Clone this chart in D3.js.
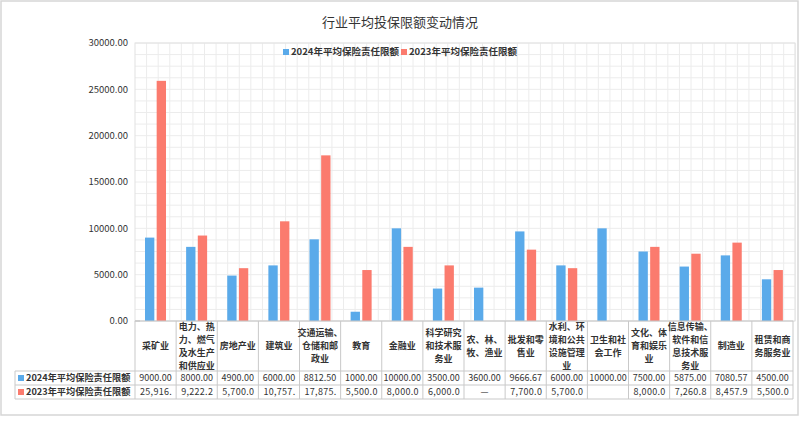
<!DOCTYPE html>
<meta charset="utf-8">
<style>
body { margin: 0; background: #fff; }
text { font-family: "Noto Sans CJK SC", "Noto Sans", sans-serif; fill: #333; }
.grid line { stroke: #ececec; stroke-width: 1px; }
.tbl line { stroke: #c9c9c9; stroke-width: 1px; }
</style>
<body>
<script src="https://d3js.org/d3.v7.min.js"></script>
<script>
// data
var categories = ["采矿业", "电力、热力、燃气及水生产和供应业", "房地产业", "建筑业",
    "交通运输、仓储和邮政业", "教育", "金融业", "科学研究和技术服务业", "农、林、牧、渔业",
    "批发和零售业", "水利、环境和公共设施管理业", "卫生和社会工作", "文化、体育和娱乐业",
    "信息传输、软件和信息技术服务业", "制造业", "租赁和商务服务业"];
var values2024 = [9000, 8000, 4900, 6000, 8812.5, 1000, 10000, 3500, 3600, 9666.67, 6000, 10000, 7500, 5875, 7080.57, 4500];
var values2023 = [25916.67, 9222.22, 5700, 10757.14, 17875, 5500, 8000, 6000, null, 7700, 5700, null, 8000, 7260.87, 8457.95, 5500];
var seriesNames = ["2024年平均保险责任限额", "2023年平均保险责任限额"];
var yTicks = [0, 5000, 10000, 15000, 20000, 25000, 30000];
var title = "行业平均投保限额变动情况";

var W = 800, H = 429;
var colors = ["#5aaaea", "#fb7b6e"];

var svg = d3.select("body").append("svg")
    .attr("width", W).attr("height", H);

// outer frame
svg.append("rect")
    .attr("x", 1).attr("y", 1).attr("width", W - 3).attr("height", 414)
    .attr("fill", "#fff").attr("stroke", "#d6d6d6").attr("stroke-width", 1.5);

svg.append("text")
    .attr("x", 400).attr("y", 27)
    .attr("text-anchor", "middle")
    .style("font-size", "13px")
    .text(title);

// scales
var plotLeft = 135, plotRight = 793;
var x0 = d3.scaleBand().domain(categories).range([plotLeft, plotRight]);
var x1 = d3.scaleBand().domain([0, 1]).range([10, 31]).paddingInner(0.2);
var y = d3.scaleLinear().domain([0, 30000]).range([321, 43]);

// background grid
var grid = svg.append("g").attr("class", "grid");
grid.selectAll(".h").data(d3.range(0, 30001, 1250)).join("line")
    .attr("x1", plotLeft).attr("x2", 795)
    .attr("y1", function(d) { return y(d); }).attr("y2", function(d) { return y(d); });
var step = y(0) - y(1250);
grid.selectAll(".v").data(d3.range(plotLeft + step, 796, step)).join("line")
    .attr("x1", function(d) { return d; }).attr("x2", function(d) { return d; })
    .attr("y1", y(30000)).attr("y2", y(0));
svg.append("rect")
    .attr("x", plotLeft).attr("y", y(30000))
    .attr("width", 795 - plotLeft).attr("height", y(0) - y(30000))
    .attr("fill", "none").attr("stroke", "#e2e2e2");

// y axis labels
svg.append("g").selectAll("text").data(yTicks).join("text")
    .attr("x", 128).attr("y", function(d) { return y(d); })
    .attr("dy", "0.35em").attr("text-anchor", "end")
    .style("font-size", "9.5px")
    .text(d3.format(".2f"));
svg.append("line").attr("x1", plotLeft).attr("x2", plotLeft + 5)
    .attr("y1", y(0)).attr("y2", y(0)).attr("stroke", "#bbb");

// bars
var series = [values2024, values2023];
series.forEach(function(vals, s) {
    svg.append("g").selectAll("rect")
        .data(categories.map(function(c, i) { return { c: c, v: vals[i] }; })
            .filter(function(d) { return d.v != null; }))
        .join("rect")
        .attr("x", function(d) { return x0(d.c) + x1(s); })
        .attr("width", x1.bandwidth())
        .attr("y", function(d) { return y(d.v); })
        .attr("height", function(d) { return y(0) - y(d.v); })
        .attr("fill", colors[s]);
});

// legend
var legend = svg.append("g");
[[283, 0], [401, 1]].forEach(function(p) {
    legend.append("rect").attr("x", p[0]).attr("y", 49)
        .attr("width", 6).attr("height", 6).attr("fill", colors[p[1]]);
    legend.append("text").attr("x", p[0] + 8).attr("y", 52)
        .attr("dy", "0.35em").style("font-size", "9.5px").style("font-weight", "bold")
        .text(seriesNames[p[1]]);
});

// data table
var rowTop = 371, rowH = 14, tblLeft = 15;
var tbl = svg.append("g").attr("class", "tbl");
tbl.append("line").attr("x1", plotLeft).attr("x2", plotRight).attr("y1", y(0)).attr("y2", y(0));
[rowTop, rowTop + rowH, rowTop + 2 * rowH].forEach(function(yy) {
    tbl.append("line").attr("x1", tblLeft).attr("x2", plotRight).attr("y1", yy).attr("y2", yy);
});
tbl.append("line").attr("x1", tblLeft).attr("x2", tblLeft).attr("y1", rowTop).attr("y2", rowTop + 2 * rowH);
tbl.selectAll(".col").data(categories.concat(["end"])).join("line")
    .attr("x1", function(d, i) { return plotLeft + i * x0.bandwidth(); })
    .attr("x2", function(d, i) { return plotLeft + i * x0.bandwidth(); })
    .attr("y1", y(0)).attr("y2", rowTop + 2 * rowH);

// wrap header labels at 4 chars, a "、" right after a full line hangs on it
function wrap(s) {
    var lines = [], cur = "";
    for (var i = 0; i < s.length; i++) {
        var ch = s[i];
        if (cur.length >= 4 && !(ch === "、" && cur.length === 4)) {
            lines.push(cur);
            cur = "";
        }
        cur += ch;
    }
    if (cur) lines.push(cur);
    return lines;
}
var lineH = 13.1;
categories.forEach(function(c) {
    var lines = wrap(c);
    var cx = x0(c) + x0.bandwidth() / 2;
    var top = 346 - (lines.length - 1) * lineH / 2;
    lines.forEach(function(l, k) {
        svg.append("text").attr("text-anchor", "middle")
            .attr("x", cx).attr("y", top + k * lineH).attr("dy", "0.35em")
            .style("font-size", "9px").style("font-weight", "bold").attr("fill", "#222")
            .text(l);
    });
});

// table rows; long numbers get cut to the cell like the original
function fitText(t, maxW) {
    var s = t.text();
    while (s.length > 1 && t.node().getComputedTextLength() > maxW) {
        s = s.slice(0, -1);
        t.text(s);
    }
}
seriesNames.forEach(function(name, s) {
    var cy = rowTop + s * rowH + rowH / 2;
    svg.append("rect").attr("x", 18).attr("y", cy - 3).attr("width", 6).attr("height", 6).attr("fill", colors[s]);
    svg.append("text").attr("x", 26).attr("y", cy).attr("dy", "0.35em")
        .style("font-size", "9.2px").style("font-weight", "bold").text(name);
    categories.forEach(function(c, i) {
        var v = series[s][i];
        var t = svg.append("text").attr("y", cy).attr("dy", "0.35em")
            .style("font-size", "9px");
        if (s === 0) {
            t.attr("x", x0(c) + x0.bandwidth() / 2).attr("text-anchor", "middle").text(d3.format(".2f")(v));
            fitText(t, x0.bandwidth() - 2);
        } else if (v == null) {
            if (i === 8) t.attr("x", x0(c) + x0.bandwidth() / 2).attr("text-anchor", "middle").text("—");
        } else {
            t.attr("x", x0(c) + 5).style("letter-spacing", "0.3px").text(d3.format(",.2f")(v));
            fitText(t, x0.bandwidth() - 7);
        }
    });
});
</script>
</body>
